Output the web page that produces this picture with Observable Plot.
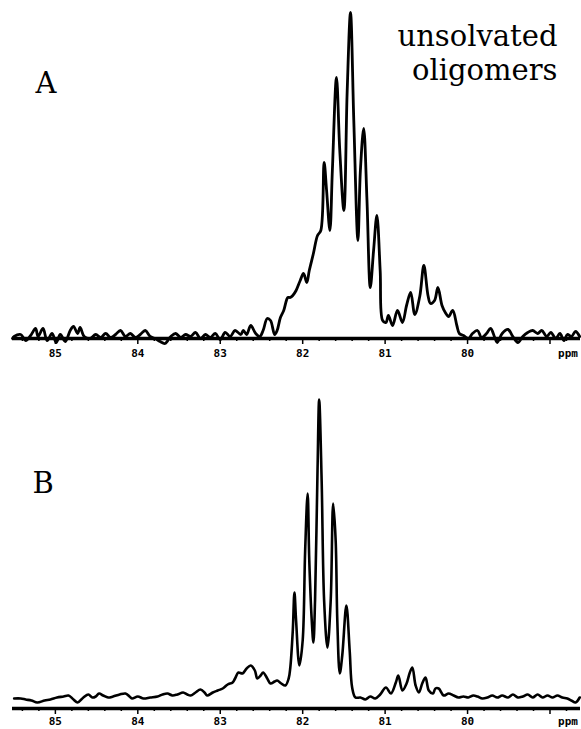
<!DOCTYPE html>
<html>
<head>
<meta charset="utf-8">
<script src="https://cdn.jsdelivr.net/npm/d3@7"></script>
<script src="https://cdn.jsdelivr.net/npm/@observablehq/plot@0.6"></script>
<style>
  html, body { margin: 0; padding: 0; background: #fff; }
  #chart svg { display: block; }
</style>
</head>
<body>
<div id="chart"></div>
<script>
// ---- Data (chemical shift in ppm, intensity in arbitrary units) ----
const ppmA = [85.52,85.50,85.42,85.36,85.30,85.24,85.21,85.15,85.10,85.04,84.99,84.94,84.88,84.82,84.78,84.73,84.70,84.65,84.58,84.51,84.45,84.39,84.33,84.27,84.21,84.15,84.09,84.03,83.97,83.91,83.85,83.79,83.73,83.67,83.60,83.54,83.48,83.42,83.36,83.30,83.24,83.18,83.12,83.06,83.00,82.94,82.88,82.82,82.75,82.72,82.68,82.63,82.57,82.52,82.48,82.43,82.39,82.34,82.31,82.27,82.23,82.18,82.15,82.12,82.08,82.03,81.99,81.95,81.92,81.87,81.82,81.78,81.74,81.71,81.67,81.64,81.59,81.55,81.50,81.46,81.42,81.38,81.33,81.30,81.26,81.22,81.18,81.14,81.10,81.06,81.03,80.99,80.96,80.91,80.85,80.79,80.74,80.69,80.64,80.58,80.53,80.48,80.45,80.40,80.36,80.31,80.27,80.23,80.18,80.13,80.10,80.05,79.99,79.94,79.88,79.83,79.77,79.72,79.67,79.64,79.58,79.51,79.45,79.39,79.33,79.27,79.21,79.15,79.10,79.04,78.99,78.93,78.88,78.83,78.79,78.74,78.69,78.64];
const intA = [0,2,4,-2,3,10,2,10,-2,5,-4,4,-3,8,12,5,11,2,0,4,1,5,1,4,8,2,5,1,4,8,2,0,-3,-5,2,5,1,4,2,6,0,4,1,5,-1,6,2,8,4,8,4,13,5,2,8,20,18,4,8,21,28,41,41,43,48,58,65,56,68,85,103,108,176,148,108,168,261,188,128,248,326,218,98,168,210,138,51,88,123,68,18,16,23,13,28,16,33,46,24,42,73,43,35,38,51,33,26,22,28,13,5,3,0,5,8,1,5,10,1,-4,5,9,2,-4,2,6,8,5,8,2,6,0,5,-2,4,2,7,2];

const ppmB = [85.50,85.42,85.36,85.29,85.22,85.13,85.06,84.98,84.90,84.84,84.78,84.73,84.66,84.60,84.55,84.51,84.47,84.42,84.36,84.30,84.22,84.15,84.10,84.07,84.00,83.93,83.85,83.76,83.70,83.64,83.58,83.52,83.45,83.40,83.36,83.30,83.24,83.19,83.16,83.09,83.03,82.97,82.91,82.85,82.82,82.78,82.73,82.68,82.63,82.58,82.55,82.51,82.48,82.43,82.39,82.34,82.31,82.26,82.21,82.17,82.15,82.12,82.10,82.08,82.04,82.00,81.97,81.94,81.92,81.89,81.87,81.85,81.82,81.80,81.77,81.74,81.70,81.66,81.63,81.60,81.58,81.55,81.52,81.47,81.43,81.40,81.36,81.30,81.24,81.18,81.12,81.06,80.99,80.93,80.87,80.84,80.79,80.74,80.70,80.67,80.63,80.59,80.55,80.51,80.47,80.42,80.39,80.35,80.29,80.23,80.17,80.11,80.05,79.99,79.93,79.88,79.82,79.76,79.70,79.64,79.58,79.51,79.45,79.39,79.33,79.27,79.21,79.15,79.09,79.03,78.97,78.91,78.85,78.79,78.74,78.69,78.64];
const intB = [10,10,9,8,6,8,9,11,12,13,9,6,11,14,11,12,15,13,11,12,14,15,12,10,12,10,11,12,14,15,13,14,16,14,13,16,19,16,13,16,18,20,24,26,30,36,35,40,43,38,30,33,36,30,25,27,28,25,23,30,41,78,116,88,43,68,158,215,148,88,66,108,238,309,228,108,61,108,205,168,88,35,53,103,58,21,11,11,9,12,10,14,21,15,26,33,18,25,36,41,23,16,25,31,18,15,20,20,13,15,13,11,12,11,13,12,10,11,13,11,13,11,14,11,12,14,11,14,11,13,11,13,11,10,8,6,11];

const majorTicks = [85, 84, 83, 82, 81, 80];
const lastTick = [79];
const lastTickLabel = ["ppm"];
const minorTicks = d3.range(786, 856, 2).map(d => d / 10).filter(d => Math.abs(d - Math.round(d)) > 1e-6);

const panelLabels = ["A", "B"];
const noteText = ["unsolvated\noligomers"];

// ---- build tables ----
const dataA = ppmA.map((p, i) => ({ppm: p, v: intA[i]}));
const dataB = ppmB.map((p, i) => ({ppm: p, v: intB[i]}));

const xDomain = [85.52, 78.63];
const tickFont = {fontSize: 11, fontWeight: "bold", fontFamily: "DejaVu Sans Mono"};
const serif = "DejaVu Serif";

function axisMarks(pad) {
  return [
    Plot.ruleY([0], {strokeWidth: 3.5, stroke: "#000"}),
    Plot.axisX(minorTicks, {tickSize: 3, tickFormat: () => "", strokeWidth: 1.5, label: null}),
    Plot.axisX(lastTick, {tickSize: 6, tickFormat: () => "", strokeWidth: 1.5, label: null}),
    Plot.axisX(majorTicks, {tickSize: 6, tickPadding: pad, strokeWidth: 1.5, label: null, tickFormat: d => String(d), ...tickFont}),
    Plot.text(lastTickLabel, {x: () => lastTick[0], frameAnchor: "bottom", lineAnchor: "top", dy: 6 + pad, dx: 18, ...tickFont})
  ];
}

const plotA = Plot.plot({
  width: 581, height: 365,
  marginLeft: 12, marginRight: 1, marginTop: 12, marginBottom: 27,
  x: {domain: xDomain, axis: null, label: null},
  y: {domain: [0, 326], axis: null, label: null},
  marks: [
    ...axisMarks(5),
    Plot.line(dataA, {x: "ppm", y: "v", strokeWidth: 2.8, strokeLinejoin: "round", curve: "catmull-rom", stroke: "#000"}),
    Plot.text([panelLabels[0]], {frameAnchor: "top-left", lineAnchor: "top", textAnchor: "start", dx: 23, dy: 60, fontSize: 29, fontFamily: serif, fill: "#000"}),
    Plot.text(noteText, {frameAnchor: "top-right", lineAnchor: "top", textAnchor: "end", dx: -23, dy: 9, fontSize: 29, lineHeight: 1.17, fontFamily: serif, fill: "#000"})
  ]
});

const plotB = Plot.plot({
  width: 581, height: 364,
  marginLeft: 12, marginRight: 1, marginTop: 34, marginBottom: 21,
  x: {domain: xDomain, axis: null, label: null},
  y: {domain: [0, 309], axis: null, label: null},
  marks: [
    ...axisMarks(3),
    Plot.line(dataB, {x: "ppm", y: "v", strokeWidth: 2.6, strokeLinejoin: "round", curve: "catmull-rom", stroke: "#000"}),
    Plot.text([panelLabels[1]], {frameAnchor: "top-left", lineAnchor: "top", textAnchor: "start", dx: 20, dy: 73, fontSize: 29, fontFamily: serif, fill: "#000"})
  ]
});

const chart = document.getElementById("chart");
chart.appendChild(plotA);
chart.appendChild(plotB);
</script>
</body>
</html>
